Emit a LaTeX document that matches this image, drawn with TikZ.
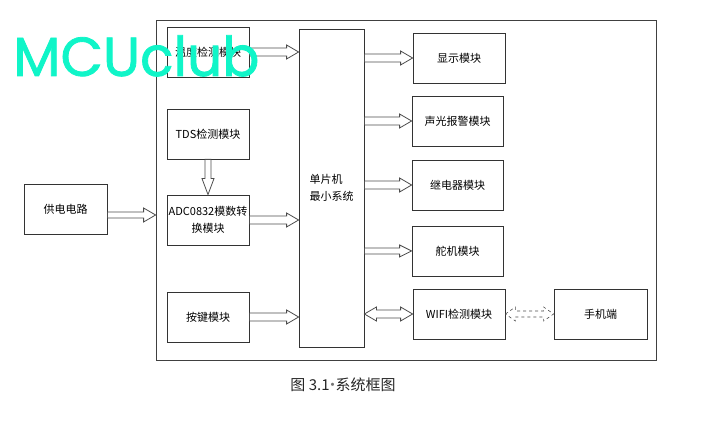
\documentclass[tikz,border=0pt]{standalone}
\usepackage{fontspec}
\usepackage{xcolor}
\usepackage{tikz}
\usetikzlibrary{calc}

\newfontfamily\cjk{Noto Sans CJK SC}
\newfontfamily\markfont{Poppins}[FakeBold=1.5]
\definecolor{markcyan}{RGB}{16,245,200}

\tikzset{
  box/.style={draw=black!80, line width=0.8pt, minimum width=82pt, minimum height=50pt,
    inner sep=1pt, align=center, font=\cjk\fontsize{11}{17}\selectfont},
  blkarr/.style n args={3}{draw=black!70, line width=0.8pt, to path={
    ($(\tikztostart)!#1!90:(\tikztotarget)$)
    -- ($(\tikztotarget)!#3!(\tikztostart)!#1!90:(\tikztotarget)$)
    -- ($(\tikztotarget)!#3!(\tikztostart)!#2!90:(\tikztotarget)$)
    -- (\tikztotarget)
    -- ($(\tikztotarget)!#3!(\tikztostart)!#2!-90:(\tikztotarget)$)
    -- ($(\tikztotarget)!#3!(\tikztostart)!#1!-90:(\tikztotarget)$)
    -- ($(\tikztostart)!#1!-90:(\tikztotarget)$) -- cycle}},
  blkdbl/.style n args={3}{draw=black!70, line width=0.8pt, to path={
    (\tikztostart)
    -- ($(\tikztostart)!#3!(\tikztotarget)!#2!90:(\tikztotarget)$)
    -- ($(\tikztostart)!#3!(\tikztotarget)!#1!90:(\tikztotarget)$)
    -- ($(\tikztotarget)!#3!(\tikztostart)!#1!90:(\tikztotarget)$)
    -- ($(\tikztotarget)!#3!(\tikztostart)!#2!90:(\tikztotarget)$)
    -- (\tikztotarget)
    -- ($(\tikztotarget)!#3!(\tikztostart)!#2!-90:(\tikztotarget)$)
    -- ($(\tikztotarget)!#3!(\tikztostart)!#1!-90:(\tikztotarget)$)
    -- ($(\tikztostart)!#3!(\tikztotarget)!#1!-90:(\tikztotarget)$)
    -- ($(\tikztostart)!#3!(\tikztotarget)!#2!-90:(\tikztotarget)$) -- cycle}},
  blk/.style={blkarr={4pt}{7pt}{12pt}},
}

\begin{document}
\begin{tikzpicture}[x=1pt,y=-1pt]
\useasboundingbox (0,0) rectangle (707,443);

\node[draw=black!75, line width=0.8pt, minimum width=500pt, minimum height=340pt] (frame) at (406,190) {};

    \node[box] (temp) at (208,52) {温度检测模块};
    \node[box] (tds) at (208,134) {TDS检测模块};
    \node[box] (adc) at (208,220) {ADC0832模数转\\换模块};
    \node[box] (key) at (208,317) {按键模块};
    \node[box, minimum width=83pt] (power) at (65.5,209) {供电电路};
    \node[box, minimum width=65pt, minimum height=318pt, align=left] (mcu) at (331.5,188) {单片机\\最小系统};
    \node[box, minimum width=92pt] (disp) at (459,58) {显示模块};
    \node[box, minimum width=91pt] (alarm) at (457.5,121) {声光报警模块};
    \node[box, minimum width=91pt] (relay) at (457.5,185) {继电器模块};
    \node[box, minimum width=91pt] (servo) at (457.5,251) {舵机模块};
    \node[box, minimum width=92pt] (wifi) at (459,314) {WIFI检测模块};
    \node[box, minimum width=93pt] (phone) at (600.5,314) {手机端};

    \node[font=\cjk\fontsize{15}{18}\selectfont, text=black!85] (cap) at (343,385) {图 3.1\kern-4.5pt{\color{black!55}·}\kern-4.5pt系统框图};

    % hollow arrows
    \draw[blk] (temp.east) to (temp.east -| mcu.west);
    \draw[blkarr={3pt}{6pt}{16pt}] (tds.south) to (adc.north);
    \draw[blkarr={3pt}{7pt}{12pt}] ([yshift=-6pt]power.east) to ([yshift=-6pt]power.east -| frame.west);
    \draw[blk] (adc.east) to (adc.east -| mcu.west);
    \draw[blk] (key.east) to (key.east -| mcu.west);
    \draw[blk] (disp.west -| mcu.east) to (disp.west);
    \draw[blk] (alarm.west -| mcu.east) to (alarm.west);
    \draw[blk] (relay.west -| mcu.east) to (relay.west);
    \draw[blkarr={3pt}{6pt}{12pt}] (servo.west -| mcu.east) to (servo.west);
    \draw[blkdbl={4pt}{7pt}{12pt}] (wifi.west -| mcu.east) to (wifi.west);
    \draw[blkdbl={3pt}{7pt}{10pt}, line width=0.6pt, dashed] (wifi.east) to (phone.west);

    % watermark
    \node[font=\markfont\fontsize{55}{55}\selectfont, text=markcyan, anchor=base west, inner sep=0pt] (mark) at (13,76) {MCUclub};

\end{tikzpicture}
\end{document}
